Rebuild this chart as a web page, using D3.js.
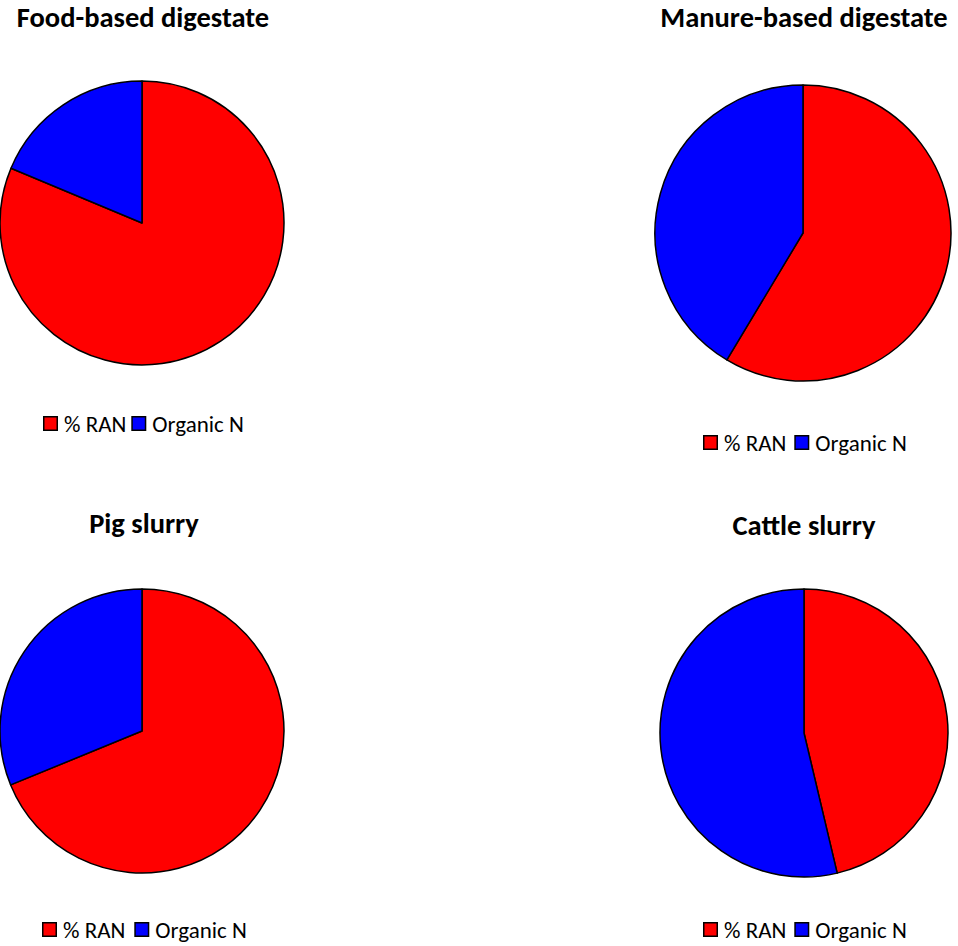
<!DOCTYPE html>
<html><head><meta charset="utf-8">
<script src="https://cdn.jsdelivr.net/npm/d3@7/dist/d3.min.js"></script>
<style>html,body{margin:0;padding:0;background:#fff;}svg{display:block;}</style>
</head><body>
<svg id="c" width="958" height="946"></svg>
<script>
// Data
const titles = ["Food-based digestate", "Manure-based digestate", "Pig slurry", "Cattle slurry"];
const categories = ["% RAN", "Organic N"];
const ranValues = [81.3, 58.6, 68.8, 46.3];
const organicValues = [18.7, 41.4, 31.2, 53.7];
const colors = ["#ff0000", "#0000ff"];

// Layout (positions only)
const layout = [
  {cx: 142, cy: 223, r: 142, tx: 143, ty: 27, lx: 43, ly: 416, gap: 5},
  {cx: 803, cy: 233, r: 148, tx: 804, ty: 27, lx: 703, ly: 435, gap: 8},
  {cx: 142, cy: 731, r: 142, tx: 144, ty: 533, lx: 42, ly: 922, gap: 9},
  {cx: 804, cy: 733, r: 144, tx: 804, ty: 535, lx: 703, ly: 922, gap: 8}
];

const svg = d3.select("#c");
const font = "Carlito, Calibri, Lato, 'Liberation Sans', sans-serif";
const pie = d3.pie().sort(null).value(d => d.v);
const color = d3.scaleOrdinal().domain(categories).range(colors);

titles.forEach((t, i) => {
  const L = layout[i];
  const data = [{k: categories[0], v: ranValues[i]}, {k: categories[1], v: organicValues[i]}];
  const arc = d3.arc().innerRadius(0).outerRadius(L.r);
  const g = svg.append("g").attr("transform", `translate(${L.cx},${L.cy})`);
  g.selectAll("path").data(pie(data)).join("path")
    .attr("d", arc)
    .attr("fill", d => color(d.data.k))
    .attr("stroke", "#000")
    .attr("stroke-width", 1.5)
    .attr("stroke-linejoin", "round");

  svg.append("text")
    .attr("x", L.tx).attr("y", L.ty)
    .attr("text-anchor", "middle")
    .attr("font-family", font)
    .attr("font-weight", "bold")
    .attr("font-size", 28.5)
    .attr("fill", "#000")
    .text(t);

  const lg = svg.append("g").attr("transform", `translate(${L.lx},${L.ly})`);
  let x = 0;
  categories.forEach((c, j) => {
    lg.append("rect").attr("x", x + 0.75).attr("y", 0.75).attr("width", 13.5).attr("height", 13.5)
      .attr("fill", color(c)).attr("stroke", "#000").attr("stroke-width", 1.5);
    const tx = lg.append("text").attr("x", x + 21).attr("y", 16)
      .attr("font-family", font).attr("font-size", 23).attr("fill", "#000").text(c);
    const w = tx.node().getComputedTextLength();
    x = x + 21 + w + L.gap;
  });
});
</script>
</body></html>
